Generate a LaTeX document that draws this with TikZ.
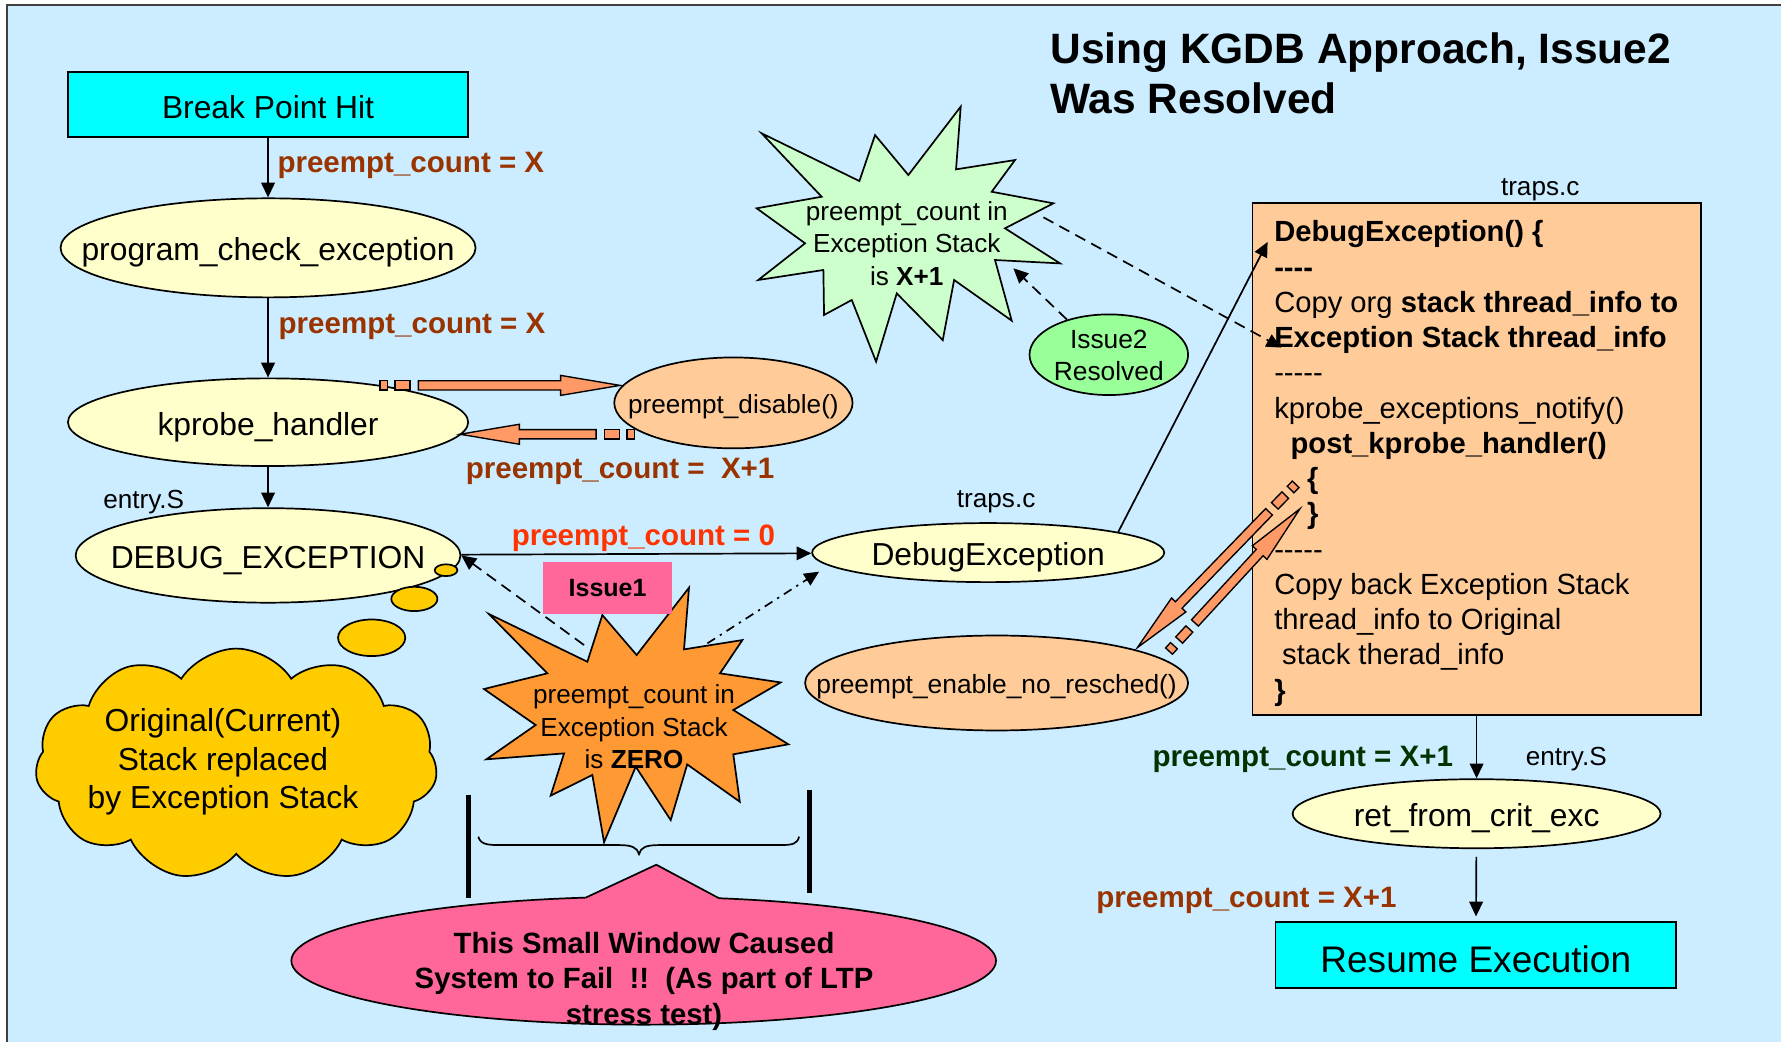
\documentclass[tikz,border=0pt]{standalone}
\usepackage{fontspec}
\setmainfont{Liberation Sans}
\usetikzlibrary{shapes.geometric,shapes.symbols,arrows.meta,calc}

\definecolor{bgblue}{HTML}{CCECFF}
\definecolor{cyanbox}{HTML}{00FFFF}
\definecolor{paleyellow}{HTML}{FFFFCC}
\definecolor{peach}{HTML}{FFCC99}
\definecolor{salmon}{HTML}{FF9966}
\definecolor{mint}{HTML}{CCFFCC}
\definecolor{lightgreen}{HTML}{99FF99}
\definecolor{starorange}{HTML}{FF9933}
\definecolor{hotpink}{HTML}{FF6699}
\definecolor{gold}{HTML}{FFCC00}
\definecolor{rust}{HTML}{993300}
\definecolor{redorange}{HTML}{FF3300}
\definecolor{darkgreen}{HTML}{003300}

\newcommand\fsz[2]{\fontsize{#1}{#2}\selectfont}

% striped block arrow from #1 (tail) to #2 (tip)
\newcommand\stripedarrow[2]{%
  \path let \p1=($(#2)-(#1)$) in \pgfextra{%
    \pgfmathsetmacro\saTmpA{atan2(\y1,\x1)}%
    \pgfmathsetmacro\saTmpL{veclen(\x1,\y1)}%
    \pgfmathsetmacro\saTmpB{\saTmpL-26.15}%
    \xdef\saAng{\saTmpA}\xdef\saLen{\saTmpL}\xdef\saBase{\saTmpB}};
  \begin{scope}[shift={(#1)},rotate=\saAng]
    \draw[blockarrow] (0pt,-2.05pt) rectangle (3.2pt,2.05pt);
    \draw[blockarrow] (6.6pt,-2.05pt) rectangle (13.2pt,2.05pt);
    \draw[blockarrow] (16.85pt,-2.05pt) -- (\saBase pt,-2.05pt) -- (\saBase pt,-4.4pt)
      -- (\saLen pt,0pt) -- (\saBase pt,4.4pt) -- (\saBase pt,2.05pt) -- (16.85pt,2.05pt) -- cycle;
  \end{scope}}

\begin{document}
\begin{tikzpicture}[x=0.5pt,y=-0.5pt,
  line width=0.75pt,
  outline/.style={draw=black,line width=0.75pt},
  oval/.style={ellipse,outline,inner sep=0pt,font=\fsz{14}{17},text height=12pt,text depth=0.7pt},
  smalloval/.style={oval,font=\fsz{11.5}{14},text height=9.7pt,text depth=0.7pt},
  plainbox/.style={rectangle,outline,inner sep=0pt,text depth=0pt},
  lbl/.style={inner sep=0pt,anchor=west,font=\bfseries\fsz{13}{15}},
  small/.style={inner sep=0pt,font=\fsz{11.5}{14}},
  startext/.style={align=center,inner sep=0pt,font=\fsz{11.5}{14.3}},
  arr/.style={-{Triangle[length=6.5pt,width=6pt]},line width=0.75pt},
  dashedarr/.style={arr,dash pattern=on 5pt off 3pt},
  dashdotarr/.style={arr,dash pattern=on 4pt off 2.5pt on 1pt off 2.5pt},
  blockarrow/.style={fill=salmon,draw=black,line width=0.6pt,line join=miter},
]
\useasboundingbox (0,0) rectangle (1568,916.5);
\fill[white] (0,0) rectangle (1568,916.5);
\draw[fill=bgblue,draw=black!75,line width=1pt] (6.1,4.4) rectangle (1600,950);

% title
\node[anchor=base west,inner sep=0pt,font=\bfseries\fsz{18.7}{21}] (title1) at (924,56) {Using KGDB Approach, Issue2};
\node[anchor=base west,inner sep=0pt,font=\bfseries\fsz{18.7}{21}] (title2) at (924,100) {Was Resolved};

% left column
\node[plainbox,fill=cyanbox,minimum width=176pt,minimum height=28.6pt,font=\fsz{14}{17},text height=12.2pt] (bph) at (236,92) {Break Point Hit};
\node[oval,fill=paleyellow,minimum width=182.7pt,minimum height=43.6pt] (pce) at (236,218.2) {\makebox[0pt]{program\_check\_exception}};
\node[oval,fill=paleyellow,minimum width=176.2pt,minimum height=38.6pt] (kph) at (236,371.7) {\makebox[0pt]{kprobe\_handler}};
\node[smalloval,fill=peach,minimum width=104.9pt,minimum height=40pt] (pdis) at (645.7,354.7) {\makebox[0pt]{preempt\_disable()}};
\node[oval,fill=paleyellow,minimum width=169.4pt,minimum height=41.6pt] (dbgexc) at (236,489) {\makebox[0pt]{DEBUG\_EXCEPTION}};

% middle
\node[oval,fill=paleyellow,minimum width=155pt,minimum height=26pt] (dbgfn) at (870,486.5) {\makebox[0pt]{DebugException}};
\node[smalloval,fill=peach,minimum width=168.6pt,minimum height=41.8pt,font=\fsz{11.6}{14}] (pens) at (877.4,601.3) {\makebox[0pt]{preempt\_enable\_no\_resched()}};

% right column
\node[plainbox,fill=peach,minimum width=197.4pt,minimum height=225.35pt] (trapbox) at (1300,404) {};
\node[anchor=north west,inner sep=0pt,align=left,font=\fsz{12.85}{15.52}] (trapcode) at (1121.1,193.5) {%
{\bfseries DebugException() \{}\\
{\bfseries -{}-{}-{}-}\\
Copy org \textbf{stack thread\_info to}\\
\textbf{Exception Stack thread\_info}\\
-{}-{}-{}-{}-\\
kprobe\_exceptions\_notify()\\
\hspace*{7.2pt}\textbf{post\_kprobe\_handler()}\\
\hspace*{14.5pt}\textbf{\{}\\
\hspace*{14.5pt}\textbf{\}}\\
-{}-{}-{}-{}-\\
Copy back Exception Stack\\
thread\_info to Original\\
\hspace*{3.5pt}stack therad\_info\\
\textbf{\}}};
\node[oval,fill=paleyellow,minimum width=162pt,minimum height=30.4pt] (rfce) at (1300,716.4) {\makebox[0pt]{ret\_from\_crit\_exc}};
\node[plainbox,fill=cyanbox,minimum width=176.3pt,minimum height=29pt,font=\fsz{16.3}{19},text height=14.9pt] (resume) at (1299.3,841) {Resume Execution};

% green star and its note
\draw[outline,fill=mint,line join=miter] (670.6,117.4) -- (723.4,173.2) -- (666.2,183.4) -- (708.8,214.2) -- (667.6,246.5)
  -- (724.9,237.7) -- (725.5,277.3) -- (749.9,264.1) -- (771.3,318.4) -- (789.5,258.3) -- (830,299.4)
  -- (840,246.5) -- (890.7,282.3) -- (876,228.9) -- (933.3,231.9) -- (884.8,201) -- (927.4,179)
  -- (873.1,168.8) -- (893.6,140.9) -- (841.7,149.1) -- (845.8,93.9) -- (799.7,154.1) -- (770.4,118.9)
  -- (756.6,159.4) -- cycle;
\node[startext] (gstartxt) at (798.3,214.2) {preempt\_count in\\Exception Stack\\is \textbf{X+1}};
\node[oval,fill=lightgreen,minimum width=69.8pt,minimum height=35.5pt] (iss2) at (976.2,312.3) {};
\node[align=center,inner sep=0pt,font=\fsz{11.6}{14}] (iss2txt) at (976.2,313.2) {Issue2\\Resolved};

% orange star
\draw[outline,fill=starorange,line join=miter] (430.5,540.6) -- (517.1,582.6) -- (530.3,541.5) -- (560.5,576.7) -- (606.6,517.4)
  -- (602.2,571.7) -- (653.6,563.5) -- (633.9,592.8) -- (687.3,600.8) -- (645.6,625.1) -- (694.1,655.3)
  -- (645.6,664.1) -- (651.3,705.8) -- (605,673) -- (590.5,722) -- (559.7,675) -- (531.8,741.5)
  -- (521.5,682.3) -- (484.8,700.5) -- (496.6,663.3) -- (428.2,668.5) -- (471.6,638.3) -- (426.1,606.6)
  -- (481.9,592.8) -- cycle;
\node[startext] (ostartxt) at (558.2,639.8) {preempt\_count in\\Exception Stack\\is \textbf{ZERO}};
\node[fill=hotpink,inner sep=0pt,minimum width=56.5pt,minimum height=22.75pt,font=\bfseries\fsz{11}{13}] (issue1) at (534.9,517.9) {Issue1};

% thought cloud
\node[cloud,cloud puffs=11,cloud puff arc=115,aspect=1.8,outline,fill=gold,minimum width=177pt,minimum height=102pt,inner sep=0pt] (thought) at (208,673) {};
\node[align=center,inner sep=0pt,font=\fsz{14}{16.9}] (thoughttxt) at (196.3,671) {Original(Current)\\Stack replaced\\by Exception Stack};
\node[ellipse,outline,fill=gold,inner sep=0pt,minimum width=29.6pt,minimum height=16.1pt] (bubble3) at (327.2,561.5) {};
\node[ellipse,outline,fill=gold,inner sep=0pt,minimum width=20.3pt,minimum height=10.7pt] (bubble2) at (364.8,527.3) {};
\node[ellipse,outline,fill=gold,inner sep=0pt,minimum width=10pt,minimum height=5.2pt] (bubble1) at (392.7,502) {};

% window markers and brace
\draw[line width=2.4pt] (412.3,699.7) -- (412.3,790.9);
\draw[line width=2.4pt] (712.9,695.3) -- (712.9,786.5);
\draw[line width=0.75pt] (421.1,736.6) .. controls (423,743) and (428,744) .. (440,744) -- (545,744)
  .. controls (556,744) and (561,746) .. (562.6,752) .. controls (564,746) and (569,744) .. (580,744)
  -- (686,744) .. controls (698,744) and (702,743) .. (703.5,736.6);

% pink callout
\node[ellipse,outline,fill=hotpink,minimum width=310.2pt,minimum height=56.3pt,inner sep=0pt] (pinkell) at (566.7,845.8) {};
\fill[hotpink] (515.6,790.3) -- (577.8,761.3) -- (633,790.8) -- (633,798) -- (515.6,798) -- cycle;
\draw[outline,line join=miter] (515.6,790.3) -- (577.8,761.3) -- (633,790.8);
\node[align=center,inner sep=0pt,font=\bfseries\fsz{12.9}{15.8}] (pinktxt) at (567,864) {This Small Window Caused\\System to Fail\ \ !!\ \ (As part of LTP\\stress test)};

% free ends of connectors
\coordinate (ostarL) at (514.2,567.9);
\coordinate (ostarR) at (622.8,566.4);
\coordinate (dbgfnLow) at (721.1,503.3);
\coordinate (gstarR) at (918.6,191.3);
\coordinate (codeTip) at (1128,306);
\coordinate (gstarLow) at (892.2,236.2);
\coordinate (codeTop) at (1116,213);

% connectors
\draw[arr] (bph) -- (pce);
\draw[arr] (pce) -- (kph);
\draw[arr] (kph) -- (dbgexc);
\draw[arr] (dbgexc) -- (dbgfn);
\draw[arr] (dbgfn.9) -- (codeTop);
\draw[dashedarr] (gstarR) -- (codeTip);
\draw[dashedarr] (iss2.140) -- (gstarLow);
\draw[dashedarr] (ostarL) -- (dbgexc.east);
\draw[dashdotarr] (ostarR) -- (dbgfnLow);
\draw[arr] (trapbox.south) -- (rfce);
\draw[arr,shorten <=3.4pt,shorten >=2.2pt] (rfce) -- (resume);

% striped block arrows
\coordinate (ba1t) at (334.6,339.3);
\coordinate (ba1h) at (545.9,339.3);
\coordinate (ba2t) at (558.5,382.3);
\coordinate (ba2h) at (405,382.3);
\coordinate (ba3t) at (1140.7,426.4);
\coordinate (ba3h) at (1001.3,570.2);
\coordinate (ba4t) at (1029.2,573.2);
\coordinate (ba4h) at (1144.6,447.8);
\stripedarrow{ba1t}{ba1h}
\stripedarrow{ba2t}{ba2h}
\stripedarrow{ba3t}{ba3h}
\stripedarrow{ba4t}{ba4h}

% labels
\node[lbl,text=rust] (pc1) at (243.6,145.3) {preempt\_count = X};
\node[lbl,text=rust] (pc2) at (244.6,287.2) {preempt\_count = X};
\node[lbl,text=rust] (pc3) at (409.4,415) {preempt\_count =\ \ X+1};
\node[lbl,text=redorange] (pc4) at (449.8,474) {preempt\_count = 0};
\node[lbl,text=darkgreen] (pc5) at (1014,668.2) {preempt\_count = X+1};
\node[lbl,text=rust] (pc6) at (964.4,792.4) {preempt\_count = X+1};
\node[small] (entry1) at (126.5,442) {entry.S};
\node[small] (traps1) at (877,442) {traps.c};
\node[small] (traps2) at (1356,167.5) {traps.c};
\node[small] (entry2) at (1379,668.2) {entry.S};
\end{tikzpicture}
\end{document}
